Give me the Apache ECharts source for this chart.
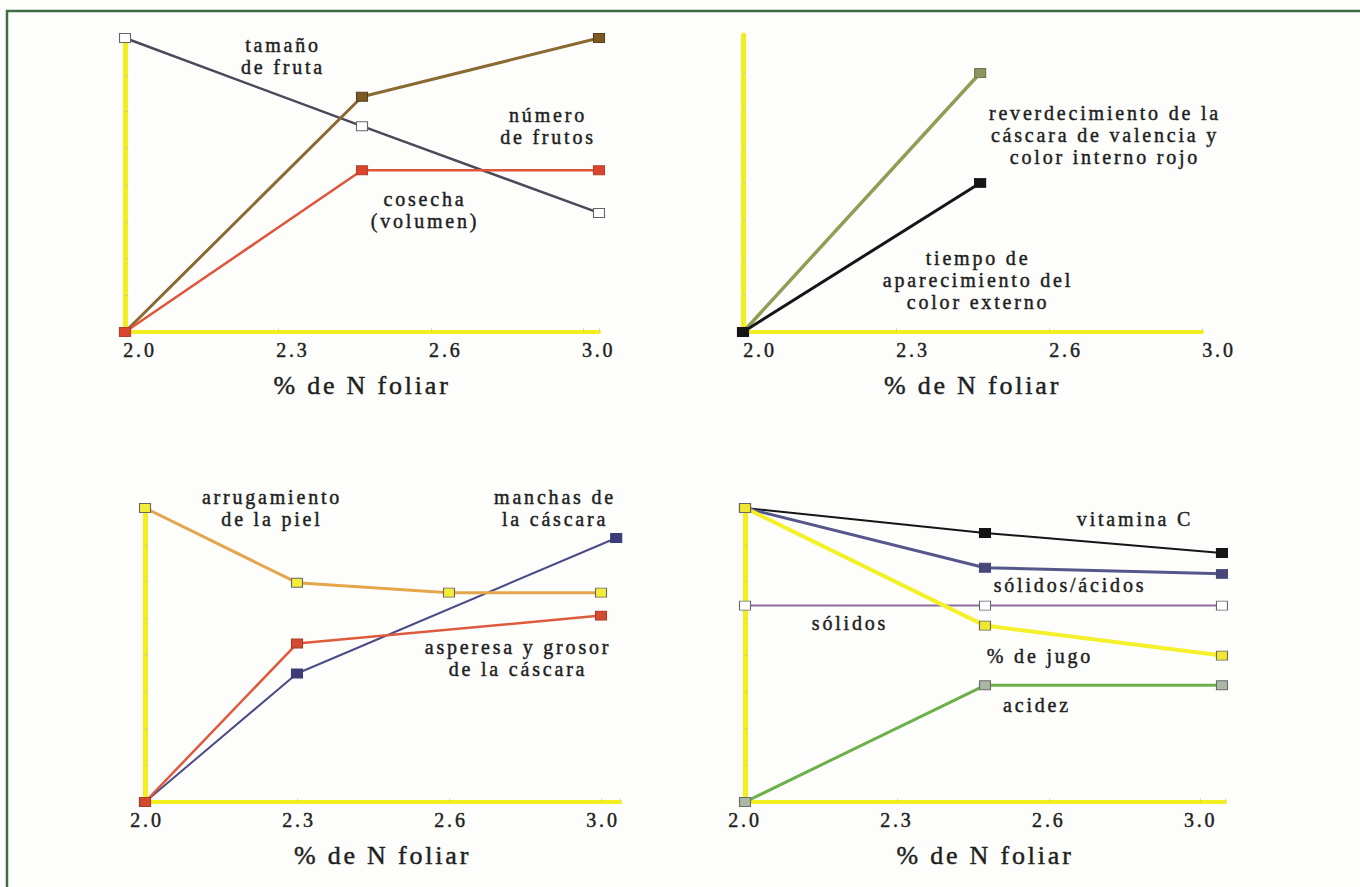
<!DOCTYPE html>
<html><head><meta charset="utf-8">
<script src="https://cdn.jsdelivr.net/npm/echarts@6/dist/echarts.min.js"></script>
<style>
html,body{margin:0;padding:0;background:#fdfefc;}
#c{width:1360px;height:887px;}
#c svg text{letter-spacing:2.8px;stroke:#1f1f1f;stroke-width:0.45px;}
</style></head><body><div id="c"></div>
<script>
// ---- data ----
const tickLabels = ['2.0', '2.3', '2.6', '3.0'];
const xAxisTitle = '% de N foliar';
// Panel 1 (top-left)
const p1X = [0, 1.55, 3.1];
const p1Tamano = [100, 70, 40.5];
const p1Numero = [0, 80, 100];
const p1Cosecha = [0, 55, 55];
// Panel 2 (top-right)
const p2X = [0, 1.55];
const p2Reverdecimiento = [0, 87.2];
const p2Tiempo = [0, 50.2];
// Panel 3 (bottom-left)
const p3ArrugX = [0, 1, 2, 3];
const p3Arrug = [100, 74.6, 71.2, 71.2];
const p3AsperX = [0, 1, 3];
const p3Asper = [0, 53.9, 63.4];
const p3ManchasX = [0, 1, 3.1];
const p3Manchas = [0, 43.7, 89.8];
// Panel 4 (bottom-right)
const p4X = [0, 1.58, 3.14];
const p4VitC = [100, 91.5, 84.7];
const p4SolAc = [100, 79.7, 77.6];
const p4Solidos = [66.8, 66.8, 66.8];
const p4Jugo = [100, 60, 49.8];
const p4Acidez = [0, 39.7, 39.7];
// annotation texts
const notes = [
  {t: 'tamaño\nde fruta', x: 283, y: 56},
  {t: 'número\nde frutos', x: 548, y: 126},
  {t: 'cosecha\n(volumen)', x: 425, y: 210},
  {t: 'reverdecimiento de la\ncáscara de valencia y\ncolor interno rojo', x: 1105, y: 135},
  {t: 'tiempo de\naparecimiento del\ncolor externo', x: 978, y: 280},
  {t: 'arrugamiento\nde la piel', x: 272, y: 508},
  {t: 'manchas de\nla cáscara', x: 555, y: 508},
  {t: 'asperesa y grosor\nde la cáscara', x: 518, y: 658},
  {t: 'vitamina C', x: 1135, y: 519},
  {t: 'sólidos/ácidos', x: 1070, y: 585},
  {t: 'sólidos', x: 850, y: 623},
  {t: '% de jugo', x: 1040, y: 656},
  {t: 'acidez', x: 1037, y: 705}
];

const zip = (xs, ys) => xs.map((x, i) => [x, ys[i]]);
const FONT = 'Liberation Serif';
const TXT = '#1f1f1f';
const YEL = '#F3EF1F';

const spacing = [153, 153, 152, 152];
const xMax = [3.1, 3.0, 3.125, 3.16];
const grids = [
  {left: 125, top: 38, height: 294},
  {left: 743, top: 35, height: 297},
  {left: 145, top: 508, height: 294},
  {left: 745, top: 508, height: 294}
].map((g, i) => Object.assign(g, {width: Math.round(spacing[i] * xMax[i])}));
const labelShift = [30, 34, 4, 0];

const xAxes = grids.map((g, i) => ({
  type: 'value', gridIndex: i, min: 0, max: xMax[i], interval: 1,
  splitLine: {show: false},
  axisLine: {show: true, lineStyle: {color: YEL, width: 4}},
  axisTick: {show: true, inside: true, length: 4, lineStyle: {color: 'rgba(190,190,160,0.5)', width: 1}},
  axisLabel: {
    margin: 8, color: TXT, fontFamily: FONT, fontSize: 20,
    padding: [0, 0, 0, labelShift[i]],
    formatter: v => (Number.isInteger(v) && tickLabels[v] !== undefined) ? tickLabels[v] : ''
  },
  name: xAxisTitle, nameLocation: 'middle', nameGap: 40,
  nameTextStyle: {color: TXT, fontFamily: FONT, fontSize: 26}
}));
const yAxes = grids.map((g, i) => ({
  type: 'value', gridIndex: i, min: 0, max: 100, interval: 12.5,
  splitLine: {show: false},
  axisLine: {show: true, lineStyle: {color: YEL, width: 5}},
  axisTick: {show: true, inside: true, length: 3, lineStyle: {color: 'rgba(190,190,160,0.5)', width: 1}},
  axisLabel: {show: false}
}));

function line(idx, data, color, width, fill, border) {
  return {
    type: 'line', xAxisIndex: idx, yAxisIndex: idx, data: data,
    symbol: 'rect', symbolSize: [11, 9], showSymbol: true,
    lineStyle: {color: color, width: width},
    itemStyle: {color: fill, borderColor: border || fill, borderWidth: 1},
    emphasis: {disabled: true}, animation: false
  };
}

const series = [
  line(0, zip(p1X, p1Tamano), '#4A4A58', 2.5, '#FFFFFF', '#666'),
  line(0, zip(p1X, p1Numero), '#8A6A30', 3, '#7A5A25', '#5a4018'),
  line(0, zip(p1X, p1Cosecha), '#E0553A', 2.5, '#D9452F', '#b8402a'),
  line(1, zip(p2X, p2Reverdecimiento), '#8E9E55', 3.5, '#8A9560', '#6d7848'),
  line(1, zip(p2X, p2Tiempo), '#151515', 3, '#151515'),
  line(2, zip(p3ManchasX, p3Manchas), '#4B4C85', 2, '#3E3C78'),
  line(2, zip(p3AsperX, p3Asper), '#DE5A3C', 2.5, '#D24A30', '#a83a28'),
  line(2, zip(p3ArrugX, p3Arrug), '#E4A64A', 3, '#F2EC3A', '#666'),
  line(3, zip(p4X, p4Solidos), '#8E6E9E', 2, '#FFFFFF', '#666'),
  line(3, zip(p4X, p4VitC), '#151515', 2, '#151515'),
  line(3, zip(p4X, p4SolAc), '#55568A', 3, '#47477A'),
  line(3, zip(p4X, p4Acidez), '#6DB04A', 3, '#A8B8A4', '#6a6a6a'),
  line(3, zip(p4X, p4Jugo), '#F4F02A', 4, '#F0E830', '#666')
];

const graphics = [
  {type: 'rect', shape: {x: 7, y: 11, width: 1360, height: 890}, style: {fill: 'none', stroke: '#3F6B45', lineWidth: 2.5}, silent: true}
].concat(notes.map(n => ({
  type: 'text', x: n.x, y: n.y, silent: true,
  style: {text: n.t, align: 'center', verticalAlign: 'middle', fill: TXT, font: '20px "' + FONT + '"', lineHeight: 22}
})));

const chart = echarts.init(document.getElementById('c'), null, {renderer: 'svg'});
chart.setOption({
  animation: false,
  backgroundColor: '#fdfefc',
  grid: grids,
  xAxis: xAxes,
  yAxis: yAxes,
  series: series,
  graphic: graphics
});
</script></body></html>
